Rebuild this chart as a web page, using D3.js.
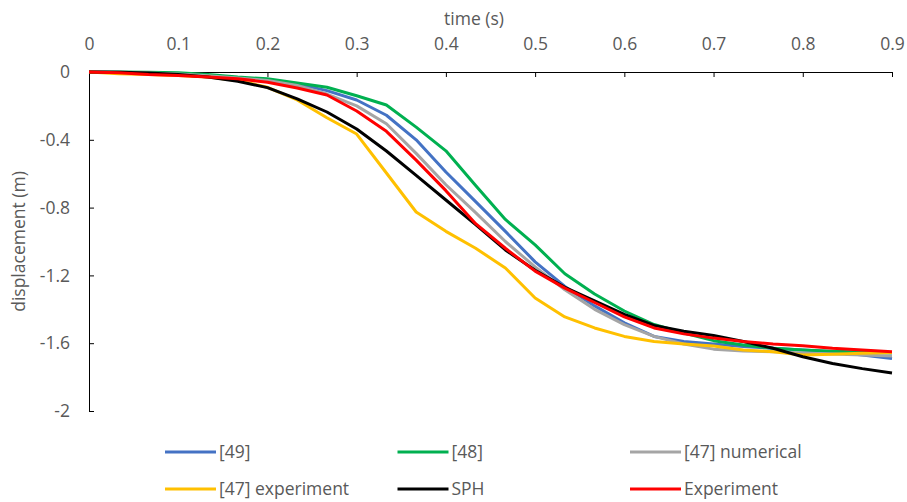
<!DOCTYPE html>
<html>
<head>
<meta charset="utf-8">
<script src="https://cdn.jsdelivr.net/npm/d3@7/dist/d3.min.js"></script>
<style>
  html, body { margin: 0; padding: 0; background: #fff; }
  svg { display: block; font-family: "Open Sans", sans-serif; }
</style>
</head>
<body>
<svg id="chart" width="907" height="502"></svg>
<script>
// Time samples (s), every 1/30 s
const time = d3.range(28).map(i => i / 30);

// Displacement (m) for each model / measurement
const ref49 = [0, -0.002, -0.005, -0.01, -0.02, -0.035, -0.05, -0.07, -0.11, -0.165, -0.255, -0.40, -0.59, -0.765,
  -0.94, -1.12, -1.265, -1.38, -1.48, -1.56, -1.59, -1.605, -1.62, -1.63, -1.64, -1.65, -1.67, -1.69];
const ref48 = [0, 0, -0.002, -0.005, -0.015, -0.03, -0.04, -0.065, -0.09, -0.14, -0.195, -0.325, -0.465, -0.67,
  -0.87, -1.02, -1.19, -1.31, -1.41, -1.49, -1.54, -1.585, -1.61, -1.63, -1.64, -1.647, -1.652, -1.658];
const ref47num = [0, -0.002, -0.006, -0.012, -0.022, -0.035, -0.05, -0.08, -0.13, -0.2, -0.305, -0.48, -0.665, -0.83,
  -1.0, -1.15, -1.285, -1.40, -1.49, -1.56, -1.605, -1.635, -1.646, -1.65, -1.658, -1.664, -1.67, -1.675];
const ref47exp = [0, -0.01, -0.015, -0.02, -0.03, -0.05, -0.09, -0.165, -0.27, -0.366, -0.596, -0.826, -0.94, -1.04,
  -1.156, -1.333, -1.445, -1.51, -1.56, -1.59, -1.605, -1.617, -1.64, -1.65, -1.67, -1.665, -1.66, -1.655];
const sph = [0, -0.002, -0.006, -0.015, -0.03, -0.055, -0.092, -0.158, -0.236, -0.336, -0.466, -0.61, -0.755, -0.9,
  -1.05, -1.17, -1.27, -1.35, -1.43, -1.495, -1.53, -1.555, -1.59, -1.63, -1.68, -1.72, -1.75, -1.776];
const experiment = [0, -0.005, -0.015, -0.02, -0.03, -0.04, -0.06, -0.094, -0.136, -0.23, -0.35, -0.52, -0.70, -0.895,
  -1.04, -1.175, -1.275, -1.36, -1.445, -1.51, -1.545, -1.57, -1.59, -1.605, -1.615, -1.63, -1.64, -1.65];

const seriesNames = ["[49]", "[48]", "[47] numerical", "[47] experiment", "SPH", "Experiment"];
const seriesValues = [ref49, ref48, ref47num, ref47exp, sph, experiment];
const seriesColors = ["#4472C4", "#00B050", "#A5A5A5", "#FFC000", "#000000", "#FF0000"];

const xTicks = [0, 0.1, 0.2, 0.3, 0.4, 0.5, 0.6, 0.7, 0.8, 0.9];
const yTicks = [0, -0.4, -0.8, -1.2, -1.6, -2];

const svg = d3.select("#chart");
const plotLeft = 89, plotRight = 892, plotTop = 72, plotBottom = 411;

const x = d3.scaleLinear().domain([0, 0.9]).range([plotLeft, plotRight]);
const y = d3.scaleLinear().domain([0, -2]).range([plotTop, plotBottom]);

const textColor = "#595959";
const fontSize = 17.5;
const fontStack = "'Open Sans', sans-serif";

// Top x axis sitting on y = 0, ticks pointing into the plot
const xAxis = svg.append("g")
  .attr("transform", `translate(0,${y(0)})`)
  .call(d3.axisBottom(x).tickValues(xTicks).tickSize(5).tickSizeOuter(0).tickFormat(d => String(d)));
xAxis.select(".domain").attr("stroke", "#000").attr("stroke-width", 1);
xAxis.selectAll(".tick line").attr("stroke", "#000");
xAxis.selectAll(".tick text")
  .attr("y", 44 - y(0)).attr("dy", "0.35em")
  .attr("fill", textColor).style("font-size", fontSize + "px")
  .style("font-family", fontStack);

// Left y axis, ticks pointing into the plot
const yAxis = svg.append("g")
  .attr("transform", `translate(${plotLeft},0)`)
  .call(d3.axisRight(y).tickValues(yTicks).tickSize(5).tickSizeOuter(0).tickFormat(d => String(d)));
yAxis.select(".domain").attr("stroke", "#000").attr("stroke-width", 1);
yAxis.selectAll(".tick line").attr("stroke", "#000");
yAxis.selectAll(".tick text")
  .attr("x", -19).attr("text-anchor", "end")
  .attr("fill", textColor).style("font-size", fontSize + "px")
  .style("font-family", fontStack);

// Axis titles
svg.append("text")
  .attr("x", 474).attr("y", 19).attr("dy", "0.35em")
  .attr("text-anchor", "middle").attr("fill", textColor).style("font-size", fontSize + "px")
  .text("time (s)");
svg.append("text")
  .attr("transform", `translate(19,${(plotTop + plotBottom) / 2}) rotate(-90)`)
  .attr("dy", "0.35em")
  .attr("text-anchor", "middle").attr("fill", textColor).style("font-size", fontSize + "px")
  .text("displacement (m)");

// Series lines
const line = d3.line().x(d => x(d[0])).y(d => y(d[1]));
seriesValues.forEach((vals, i) => {
  svg.append("path")
    .datum(time.map((t, j) => [t, vals[j]]))
    .attr("fill", "none")
    .attr("stroke", seriesColors[i])
    .attr("stroke-width", 3)
    .attr("stroke-linejoin", "round")
    .attr("d", line);
});

// Legend: two rows of three equally spaced columns
const legendCols = [165, 397.5, 630];
const legendRows = [452, 489];
seriesNames.forEach((name, i) => {
  const lx = legendCols[i % 3], ly = legendRows[Math.floor(i / 3)];
  const g = svg.append("g").attr("transform", `translate(${lx},${ly})`);
  g.append("line").attr("x1", 0).attr("x2", 51).attr("y1", 0).attr("y2", 0)
    .attr("stroke", seriesColors[i]).attr("stroke-width", 3);
  g.append("text").attr("x", 54).attr("dy", "0.35em")
    .attr("fill", textColor).style("font-size", fontSize + "px")
    .text(name);
});
</script>
</body>
</html>
